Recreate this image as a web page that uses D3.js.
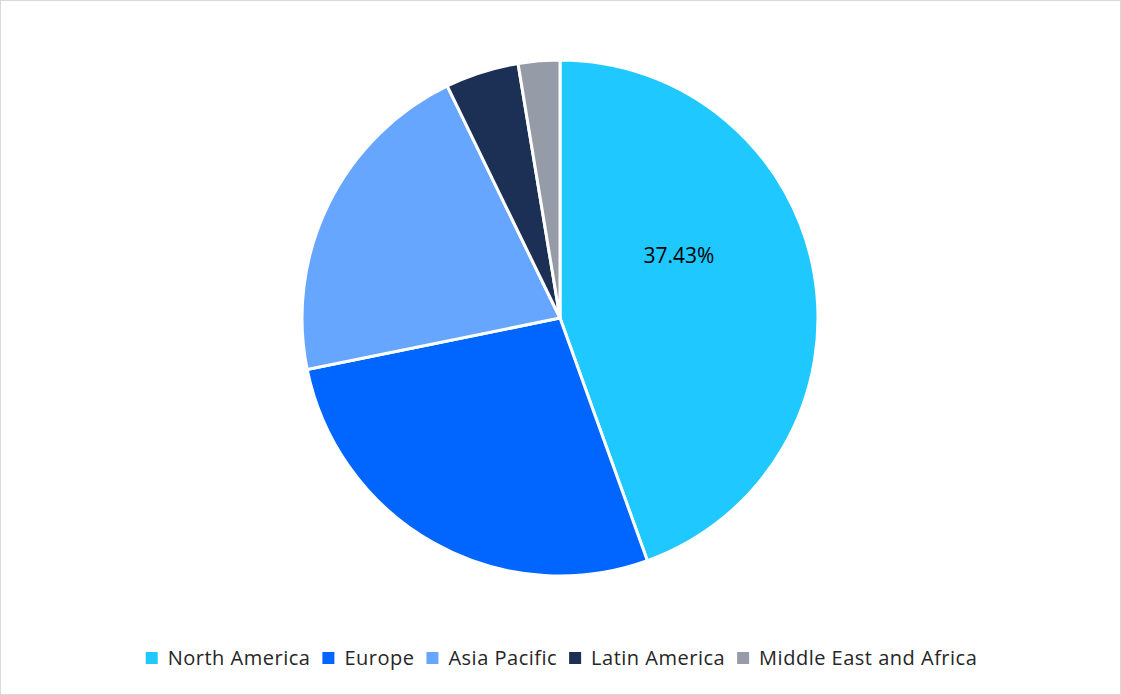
<!DOCTYPE html>
<html>
<head>
<meta charset="utf-8">
<script src="https://cdn.jsdelivr.net/npm/d3@7"></script>
<style>
  body { margin: 0; background: #fff; }
  svg { font-family: "Open Sans", "Liberation Sans", sans-serif; }
</style>
</head>
<body>
<svg id="chart" width="1121" height="695"></svg>
<script>
const regions = ["North America", "Europe", "Asia Pacific", "Latin America", "Middle East and Africa"];
const shares = [44.5, 27.3, 21.0, 4.6, 2.6];
const colors = ["#1FC9FF", "#0066FF", "#66A6FF", "#1C2F55", "#959BA7"];
const shownLabels = ["37.43%", "", "", "", ""];

const svg = d3.select("#chart");
const width = +svg.attr("width");
const height = +svg.attr("height");

// outer frame
svg.append("rect")
    .attr("x", 0.5).attr("y", 0.5)
    .attr("width", width - 1).attr("height", height - 1)
    .attr("fill", "#fff").attr("stroke", "#d9d9d9");

const cx = 560, cy = 318, radius = 258;
const data = regions.map((r, i) => ({ region: r, value: shares[i], color: colors[i], label: shownLabels[i] }));

const pie = d3.pie().sort(null).value(d => d.value);
const arc = d3.arc().innerRadius(0).outerRadius(radius);

const g = svg.append("g").attr("transform", `translate(${cx},${cy})`);
const arcs = pie(data);

g.selectAll("path")
    .data(arcs)
    .join("path")
    .attr("d", arc)
    .attr("fill", d => d.data.color)
    .attr("stroke", "#fff")
    .attr("stroke-width", 3);

// label sits a bit above the slice middle, as in the original
function labelPos(d) {
    const a = d.startAngle + (d.endAngle - d.startAngle) * 0.39;
    const r = radius * 0.52;
    return [Math.sin(a) * r, -Math.cos(a) * r];
}

g.selectAll("text")
    .data(arcs.filter(d => d.data.label))
    .join("text")
    .attr("transform", d => `translate(${labelPos(d)})`)
    .attr("text-anchor", "middle")
    .attr("dy", "0.35em")
    .attr("font-size", 21)
    .attr("fill", "#000")
    .text(d => d.data.label);

// legend
const legend = svg.append("g");
let x = 0;
data.forEach(d => {
    const item = legend.append("g");
    item.append("rect").attr("x", 0).attr("y", -6).attr("width", 12).attr("height", 12).attr("fill", d.color);
    const t = item.append("text").attr("x", 22).attr("dy", "0.35em").attr("font-size", 20)
        .attr("letter-spacing", 0.5).attr("fill", "#262626").text(d.region);
    const w = 22 + t.node().getComputedTextLength();
    item.attr("transform", `translate(${x},0)`);
    x += w + 12;
});
const totalW = x - 12;
legend.attr("transform", `translate(${(width - totalW) / 2 + 1},658)`);
</script>
</body>
</html>
